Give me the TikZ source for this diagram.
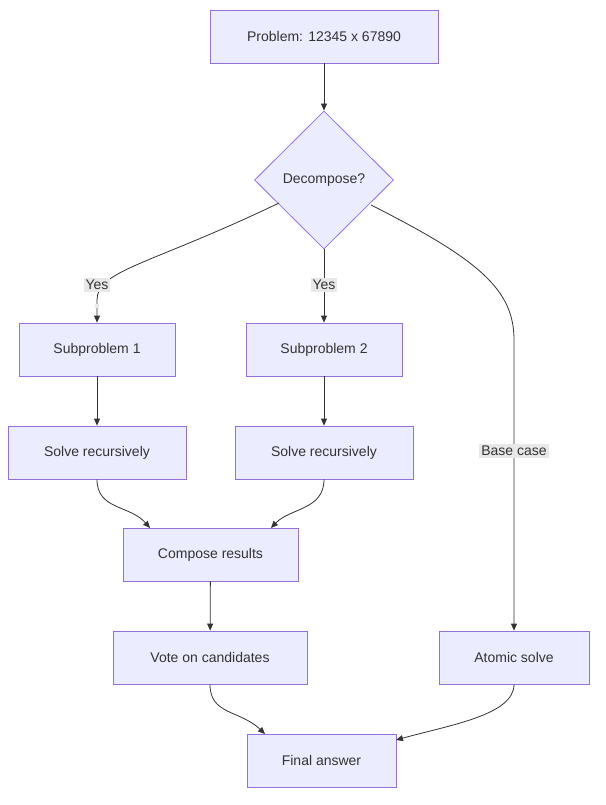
\documentclass[tikz,border=0pt]{standalone}
\usepackage{fontspec}
\setmainfont{Liberation Sans}
\usetikzlibrary{shapes.geometric,arrows.meta}
\definecolor{nfill}{HTML}{ECECFF}
\definecolor{nstroke}{HTML}{9370DB}
\definecolor{edge}{HTML}{333333}
\definecolor{lbg}{HTML}{E8E8E8}
\tikzset{
  box/.style={draw=nstroke,fill=nfill,line width=0.8pt,minimum height=53pt,inner sep=0pt,font=\fontsize{14}{16}\selectfont,text=edge},
  dia/.style={draw=nstroke,fill=nfill,line width=0.8pt,diamond,minimum width=139pt,minimum height=138pt,inner sep=0pt,font=\fontsize{14}{16}\selectfont,text=edge},
  lab/.style={fill=lbg,inner sep=2pt,font=\fontsize{14}{16}\selectfont,text=edge},
  conn/.style={draw=edge,line width=0.8pt,-{Triangle[length=7pt,width=6pt]}},
}
\begin{document}
\begin{tikzpicture}[x=1pt,y=-1pt]
\useasboundingbox[fill=white] (0,0) rectangle (605,805);
\node[box,minimum width=228pt] (p) at (324,36.5) {Problem: 12345 x 67890};
\node[dia] (d) at (324,180) {Decompose?};
\node[box,minimum width=156pt] (s1) at (97,349.5) {Subproblem 1};
\node[box,minimum width=156pt] (s2) at (324,349.5) {Subproblem 2};
\node[box,minimum width=178pt] (r1) at (97,452.5) {Solve recursively};
\node[box,minimum width=178pt] (r2) at (324,452.5) {Solve recursively};
\node[box,minimum width=175pt] (c) at (210.5,554.5) {Compose results};
\node[box,minimum width=194pt] (v) at (210,657.5) {Vote on candidates};
\node[box,minimum width=150pt] (a) at (514,657.5) {Atomic solve};
\node[box,minimum width=149pt] (f) at (321.5,760.5) {Final answer};
\coordinate (dl) at (279,203);
\coordinate (dr) at (371,205);
\draw[conn] (p) -- (d);
\draw[conn] (dl) .. controls (150,265) and (97,270) .. (97,300) -- (s1.north) node[lab,pos=0.0,above=-8pt] (y1) {};
\node[lab] (yes1) at (97,285) {Yes};
\draw[conn] (d.south) -- (s2.north);
\node[lab] (yes2) at (324,285) {Yes};
\draw[conn] (dr) .. controls (480,260) and (514,290) .. (514,340) -- (a.north);
\node[lab] (bc) at (514,451) {Base case};
\draw[conn] (s1) -- (r1);
\draw[conn] (s2) -- (r2);
\draw[conn] (r1.south) .. controls (97,510) and (130,505) .. (150,528);
\draw[conn] (r2.south) .. controls (324,510) and (290,508) .. (271,528);
\draw[conn] (c) -- (v);
\draw[conn] (v.south) .. controls (210,715) and (240,710) .. (265,734);
\draw[conn] (a.south) .. controls (514,715) and (450,725) .. (396,740);
\end{tikzpicture}
\end{document}
